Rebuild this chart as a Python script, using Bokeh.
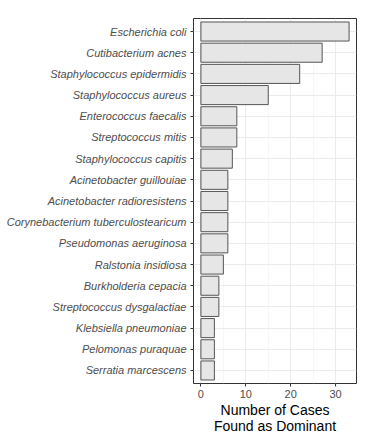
from bokeh.plotting import figure
from bokeh.models import FactorRange, FixedTicker, ColumnDataSource
from bokeh.embed import file_html
from bokeh.resources import INLINE

species = [
    "Escherichia coli", "Cutibacterium acnes", "Staphylococcus epidermidis",
    "Staphylococcus aureus", "Enterococcus faecalis", "Streptococcus mitis",
    "Staphylococcus capitis", "Acinetobacter guillouiae", "Acinetobacter radioresistens",
    "Corynebacterium tuberculostearicum", "Pseudomonas aeruginosa", "Ralstonia insidiosa",
    "Burkholderia cepacia", "Streptococcus dysgalactiae", "Klebsiella pneumoniae",
    "Pelomonas puraquae", "Serratia marcescens",
]
counts = [33, 27, 22, 15, 8, 8, 7, 6, 6, 6, 6, 5, 4, 4, 3, 3, 3]
x_ticks = [0, 10, 20, 30]
x_minor = [5, 15, 25]
x_title = "Number of Cases\nFound as Dominant"

factors = list(reversed(species))
src = ColumnDataSource(dict(sp=species, n=counts))

FONT = "Liberation Sans"
p = figure(
    y_range=FactorRange(factors=factors, range_padding=0.23 / 17),
    x_range=(-1.65, 34.65),
    width=375, height=440,
    min_border_left=193, min_border_top=18, min_border_right=19, min_border_bottom=57,
    output_backend="svg", toolbar_location=None,
    background_fill_color="white", border_fill_color="white",
)
p.hbar(y="sp", right="n", left=0, height=0.9, source=src,
       fill_color="#e6e6e6", line_color="#555555", line_width=1)

p.outline_line_color = "#333333"
p.outline_line_width = 1

p.xaxis.ticker = FixedTicker(ticks=x_ticks, minor_ticks=x_minor)
p.xgrid.grid_line_color = "#ebebeb"
p.xgrid.grid_line_width = 1
p.xgrid.minor_grid_line_color = "#f2f2f2"
p.xgrid.minor_grid_line_width = 0.6
p.ygrid.grid_line_color = "#ebebeb"
p.ygrid.grid_line_width = 1

for ax in (p.xaxis, p.yaxis):
    ax.axis_line_color = None
    ax.major_tick_line_color = "#333333"
    ax.major_tick_in = 0
    ax.major_tick_out = 3
    ax.minor_tick_line_color = None
    ax.major_label_text_font = FONT
    ax.major_label_text_font_size = "11px"
    ax.major_label_text_color = "#4d4d4d"

p.yaxis.major_label_text_font_style = "italic"
p.yaxis.major_label_standoff = 4
p.xaxis.major_label_standoff = 2
p.xaxis.axis_label = x_title
p.xaxis.axis_label_text_font = FONT
p.xaxis.axis_label_text_font_size = "14px"
p.xaxis.axis_label_text_font_style = "normal"
p.xaxis.axis_label_text_color = "black"
p.xaxis.axis_label_text_line_height = 1.05
p.xaxis.axis_label_standoff = 1

open("out.html", "w").write(file_html(p, INLINE))
